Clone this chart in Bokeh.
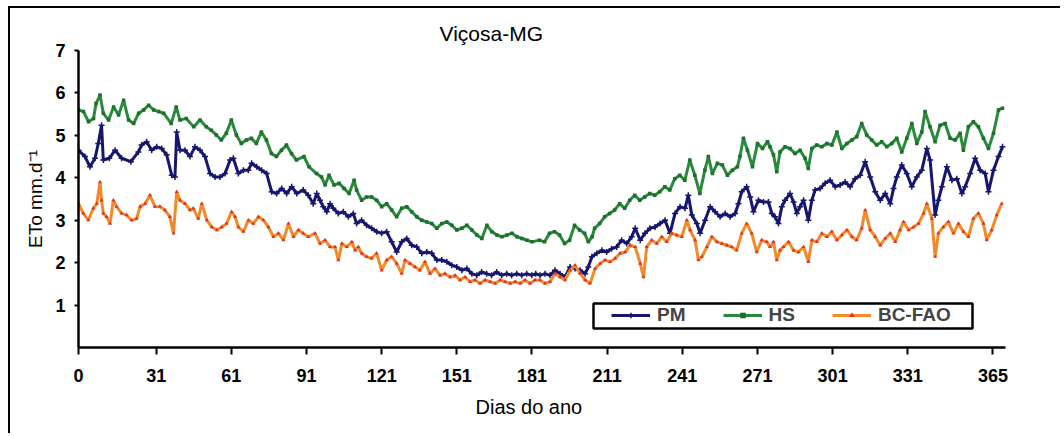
from bokeh.plotting import figure
from bokeh.models import Range1d, FixedTicker, Title, Legend, LegendItem, BoxAnnotation
from bokeh.embed import file_html
from bokeh.resources import INLINE

# ---------------- data ----------------
title_text = "Viçosa-MG"
x_label = "Dias do ano"
y_label = "ETo mm.d⁻¹"
x_ticks = [0, 31, 61, 91, 121, 151, 181, 211, 241, 271, 301, 331, 365]
y_ticks = [1, 2, 3, 4, 5, 6, 7]

hs_days = [0, 2, 4, 6, 7, 8.6, 9.9, 12, 14, 16, 18, 20, 22, 24, 26, 28, 30, 32, 34, 37, 39, 40.5, 43, 46, 48.5,
           51, 53, 55, 57, 59, 61, 63, 65, 67, 69, 71, 73, 75, 77, 79, 81, 83, 85, 87, 90, 92,
           95, 97, 98.4, 100, 102, 104, 106, 108, 110, 111, 113, 115, 117, 119, 121, 123, 125, 127, 129, 131,
           133, 135, 137, 139, 141, 143, 145, 147, 149, 151, 153, 155, 157, 159, 161, 163, 165, 167, 169, 171,
           173, 175, 177, 179, 181,
           184, 186, 188, 190, 192, 194, 196, 198, 200, 202, 203.5, 205, 206, 208, 210, 212, 214, 216, 218, 220,
           222, 224, 226, 228, 230, 232, 234, 236, 238, 240, 242, 244, 246, 248, 250, 251.4, 253, 255, 257, 259,
           261, 263, 264, 265.4, 267, 269, 271, 273, 275,
           276, 277.4, 278.7, 280, 282, 284, 286, 288, 290, 291.3, 292.7, 294.7, 296.7, 298.7, 300.7, 302.7,
           304.7, 306.7, 308.7, 310.6, 312.6, 314.6, 316.6, 318.6, 320.6, 322.6, 324.6, 326.6, 328.6, 330.6,
           332.6, 334.6, 336.6, 337.9, 339.9, 341.9, 343.9, 345.9, 347.9, 349.9, 351.9, 353.2, 355.2, 357.2,
           359.2, 361.2, 363.2, 365.2, 367.2, 368.8]
hs_vals = [5.60, 5.56, 5.32, 5.40, 5.75, 5.95, 5.52, 5.36, 5.67, 5.48, 5.83, 5.36, 5.28, 5.52, 5.60, 5.71, 5.60,
           5.56, 5.52, 5.28, 5.67, 5.36, 5.40, 5.20, 5.36,
           5.20, 5.12, 5.01, 4.89, 5.05, 5.36, 5.01, 4.81, 4.89, 4.93, 4.81, 5.08, 4.89, 4.57, 4.50, 4.65, 4.77,
           4.57, 4.42, 4.50, 4.26,
           4.10, 4.02, 3.83, 4.06, 3.83, 3.87, 3.75, 3.63, 3.94, 3.71, 3.47, 3.55, 3.55, 3.47, 3.32, 3.39, 3.24,
           3.08, 3.28, 3.32,
           3.20, 3.08, 3.00, 2.96, 2.92, 2.81, 2.92, 2.96, 2.88, 2.77, 2.81, 2.88, 2.77, 2.65, 2.57, 2.88, 2.73,
           2.65, 2.61, 2.65,
           2.69, 2.61, 2.57, 2.53, 2.49,
           2.53, 2.49, 2.69, 2.73, 2.65, 2.45, 2.53, 2.88, 2.77, 2.69, 2.49, 2.61, 2.81, 2.92, 3.08, 3.16, 3.24,
           3.39, 3.28, 3.47,
           3.59, 3.47, 3.55, 3.63, 3.59, 3.67, 3.79, 3.71, 3.98, 4.06, 3.94, 4.42, 4.06, 3.63, 4.18, 4.50, 4.10,
           4.34, 4.30, 4.06,
           4.18, 4.26, 4.50, 4.93, 4.65, 4.26, 4.81, 4.69, 4.85,
           4.73, 4.54, 4.14, 4.61, 4.73, 4.69, 4.57, 4.65, 4.46, 4.22, 4.69, 4.77, 4.73, 4.81, 4.77, 5.08,
           4.69, 4.81, 4.89, 4.97, 5.28, 5.01, 4.89, 4.77, 4.85, 4.73, 4.81, 4.93, 4.61, 4.93,
           5.28, 4.81, 5.08, 5.56, 5.20, 4.85, 5.24, 5.28, 4.93, 4.89, 5.05, 4.65, 5.20, 5.32,
           5.20, 4.93, 4.69, 5.05, 5.60, 5.64]

pm_days = [0, 2.6, 4.6, 6.6, 7.9, 9.2, 9.9, 12.3, 14.6, 17.2, 20.9, 23.9, 25.2, 27.2, 29.2, 31.2, 33.2, 35.2,
           37.2, 38.5, 39.2, 40.5, 42.5, 44.5, 46.5, 48.5, 50.5, 52.5, 54.5, 56.5, 58.5, 60.5, 61.8, 63.8, 65.8,
           67.8, 69.1, 71.1, 73.1, 75.1, 77.1, 79.1, 81.1, 83.1, 85.1, 87.1, 89.7, 91.7,
           93.7, 95.1, 96.4, 97.7, 99.1, 100.4, 101.7, 103.7, 105.7, 107.7, 109.7, 111, 113, 115, 117, 119, 121,
           123, 125, 127, 129, 131, 133, 135, 137, 139, 141, 143, 145, 147, 149, 151, 153, 155, 157, 159, 160.9,
           162.9, 164.9, 166.9, 168.9, 170.9, 172.9, 174.9, 176.9, 178.9, 180.9, 182.5,
           184.2, 186.2, 188.2, 190.2, 192.2, 194.2, 196.2, 198.2, 200.2, 202.2, 203.5, 204.9, 206.9, 208.9,
           210.8, 212.8, 214.8, 216.8, 218.8, 220.8, 222.2, 224.2, 226.1, 228.1, 230.1, 232.1, 234.1, 236.1,
           238.1, 240.1, 242.1, 243.4, 244.8, 246.8, 248.1, 250.1, 252.1, 254.1, 256.1, 258.1, 260.1, 262.1,
           263.4, 264.7, 266.7, 268.1, 269.4, 271.4, 273.4,
           275.4, 276.7, 278, 279.4, 280.7, 282, 284, 285.4, 286.7, 288, 289.4, 291.3, 292.7, 294, 296, 298,
           300, 302, 304, 306, 308, 310, 312, 314, 316, 318, 320, 322, 324, 325.3, 326.6, 328.6, 330.6, 332.6,
           334.6, 336.6, 338.6, 339.9, 341.9, 343.2, 344.6, 346.6, 348.6, 350.6, 352.6, 353.9, 355.9, 357.9,
           359.9, 361.9, 363.2, 365.2, 367.2, 368.8]
pm_vals = [4.65, 4.50, 4.26, 4.46, 4.81, 5.24, 4.42, 4.46, 4.65, 4.46, 4.38, 4.61, 4.77, 4.85, 4.65, 4.73, 4.69,
           4.54, 4.06, 4.02, 5.08, 4.65, 4.65, 4.50, 4.73, 4.65, 4.50, 4.10, 4.02, 4.02, 4.10, 4.42, 4.46, 4.10,
           4.18, 4.18, 4.34, 4.26, 4.18, 4.10, 3.67, 3.63, 3.75, 3.63, 3.79, 3.63, 3.71, 3.59,
           3.39, 3.63, 3.47, 3.32, 3.20, 3.39, 3.28, 3.16, 3.20, 3.08, 3.16, 2.92, 3.00, 2.88, 2.81, 2.73, 2.69,
           2.73, 2.49, 2.25, 2.49, 2.57, 2.41, 2.37, 2.22, 2.25, 2.22, 2.06, 2.06, 2.02, 1.94, 1.90, 1.82, 1.86,
           1.74, 1.70, 1.78,
           1.74, 1.70, 1.78, 1.70, 1.74, 1.70, 1.74, 1.70, 1.74, 1.70, 1.74,
           1.70, 1.74, 1.70, 1.82, 1.74, 1.66, 1.90, 1.86, 1.82, 1.74, 1.90, 2.14, 2.22, 2.29,
           2.25, 2.33, 2.37, 2.53, 2.45, 2.61, 2.81, 2.53, 2.69, 2.81, 2.84, 2.92, 3.00, 2.69,
           3.16, 3.32, 3.28, 3.59, 3.12, 2.92, 2.69, 3.00, 3.32, 3.20, 3.08, 3.16, 3.08, 3.16,
           3.39, 3.67, 3.79, 3.55, 3.20, 3.47, 3.43,
           3.43, 3.16, 3.08, 2.92, 3.32, 3.47, 3.63, 3.43, 3.16, 3.32, 3.47, 3.00, 3.47, 3.71, 3.75, 3.87,
           3.94, 3.79, 3.83, 3.90, 3.79, 3.98, 4.06, 4.38, 4.02, 3.67, 3.47, 3.63, 3.39, 3.75, 4.02, 4.30, 4.10,
           3.79, 4.02, 4.18, 4.69, 4.42, 3.12, 3.47, 3.79, 4.26, 3.94, 3.98, 3.63, 3.79, 4.10, 4.46,
           4.18, 4.10, 3.67, 4.18, 4.50, 4.73]

bc_days = [0, 1.9, 3.9, 5.9, 7.3, 8.6, 9.2, 9.9, 11.2, 12.6, 13.9, 15.2, 17.2, 19.2, 21.2, 23.2, 24.6, 26.6,
           28.5, 30.5, 32.5, 34.5, 36.5, 37.9, 39.2, 40.5, 42.5, 44.5, 45.8, 47.8, 49.2, 51.2, 53.2, 55.2, 57.2,
           59.1, 61.1, 62.5, 63.8, 65.8, 67.8, 69.8, 71.8, 73.8, 75.8, 77.8, 79.8, 81.8, 83.8, 85.8, 87.8, 89.7,
           91.7,
           94.4, 96.4, 98.4, 100.4, 102.4, 103.7, 105.1, 107.1, 109.1, 110.4, 111.7, 113, 115, 117, 119, 121,
           123, 125, 127, 129, 130.3, 132.3, 134.3, 136.3, 138.3, 140.3, 142.3, 144.3, 146.3, 148.3, 150.3,
           152.3, 154.3, 156.3, 158.3, 160.3, 162.3, 164.3, 166.3, 168.3, 170.3, 172.3, 174.3, 176.3, 178.2,
           180.2, 182.2,
           184.2, 186.2, 188.2, 190.2, 192.2, 194.2, 196.2, 198.2, 200.2, 202.2, 204.2, 206.2, 208.2, 210.2,
           212.2, 214.2, 216.2, 218.2, 220.2, 222.2, 224.2, 225.5, 226.8, 228.8, 230.8, 232.8, 234.8, 236.8,
           238.8, 240.8, 242.8, 244.1, 246.1, 247.4, 248.8, 250.8, 252.8, 254.8, 256.8, 258.8, 260.7, 262.7,
           264.7, 266.7, 268.7, 270.7, 272.7, 274.7,
           276, 277.4, 278.7, 280, 281.4, 283.4, 285.4, 287.4, 289.4, 291.3, 292.7, 294.7, 296.7, 298.7,
           300.7, 302.7, 304.7, 306.7, 308.7, 310.6, 312.6, 314, 316, 318, 320, 322, 324, 326, 327.9, 329.3,
           331.3, 333.3, 335.3, 337.3, 338.6, 340.6, 341.9, 343.2, 345.2, 347.2, 349.2, 351.2, 353.2, 355.2,
           357.2, 359.2, 361.2, 362.5, 364.5, 366.5, 368.5]
bc_vals = [3.39, 3.16, 3.00, 3.28, 3.39, 3.90, 3.47, 3.16, 3.08, 2.92, 3.47, 3.32, 3.16, 3.12, 3.00, 3.04, 3.32,
           3.39, 3.59, 3.32, 3.32, 3.24, 3.08, 2.69, 3.67, 3.47, 3.39, 3.24, 3.28, 3.04, 3.39, 3.00, 2.84, 2.77,
           2.84, 2.92, 3.20, 3.08, 2.84, 2.73, 3.00, 2.92, 3.08, 3.00, 2.84, 2.61, 2.69, 2.53, 2.92, 2.61, 2.77,
           2.69, 2.61,
           2.69, 2.45, 2.53, 2.37, 2.37, 2.06, 2.45, 2.37, 2.49, 2.29, 2.37, 2.22, 2.14, 2.10, 2.22, 1.82,
           2.06, 2.14, 1.98, 1.74, 2.06, 1.98, 1.90, 1.82, 2.02, 1.74, 1.86, 1.70, 1.74, 1.66, 1.70,
           1.59, 1.66, 1.55, 1.59, 1.51, 1.59, 1.55, 1.51, 1.59, 1.55, 1.51, 1.55, 1.51, 1.59,
           1.51, 1.59,
           1.59, 1.51, 1.55, 1.74, 1.66, 1.59, 1.82, 1.94, 1.74, 1.59, 1.51, 1.86, 1.98, 2.06,
           2.02, 2.10, 2.22, 2.25, 2.41, 2.37, 1.98, 1.66, 2.37, 2.53, 2.45, 2.61, 2.49, 2.69,
           2.65, 2.61, 3.00, 2.77, 2.53, 2.06, 2.14, 2.37, 2.61, 2.49, 2.45, 2.41, 2.37, 2.29,
           2.69, 2.92, 2.69, 2.25, 2.53, 2.49,
           2.37, 2.49, 2.06, 2.29, 2.37, 2.49, 2.29, 2.25, 2.37, 2.02, 2.53, 2.49, 2.69, 2.61,
           2.73, 2.53, 2.65, 2.77, 2.61, 2.53, 2.81, 3.24, 2.77, 2.61, 2.41, 2.57, 2.69, 2.49, 2.77, 2.96,
           2.77, 2.84, 2.92, 3.16, 3.39, 3.04, 2.14, 2.69, 2.84, 2.96, 2.69, 2.92, 2.73, 2.61,
           3.04, 3.16, 2.92, 2.53, 2.77, 3.12, 3.39]

series_names = ["PM", "HS", "BC-FAO"]

# ---------------- figure ----------------
FONT = "Liberation Sans"
p = figure(width=1052, height=427, output_backend="svg", toolbar_location=None,
           x_range=Range1d(0, 370), y_range=Range1d(0, 7),
           min_border_left=68, min_border_right=57, min_border_top=42, min_border_bottom=88,
           background_fill_color="white", border_fill_color="white")
p.styles = {"margin-left": "8px", "margin-top": "6px",
            "border-left": "2px solid black", "border-top": "2px solid black"}
p.outline_line_color = None
p.grid.visible = False

line_pm = p.line(pm_days, pm_vals, line_color="#16166e", line_width=3)
mk_pm = p.scatter(pm_days, pm_vals, marker="cross", size=6, line_color="#16166e", line_width=1.5)
line_hs = p.line(hs_days, hs_vals, line_color="#2a8a3c", line_width=3)
mk_hs = p.scatter(hs_days, hs_vals, marker="square", size=3.5, fill_color="#1f6e2c", line_color=None)
line_bc = p.line(bc_days, bc_vals, line_color="#f28a2a", line_width=3)
mk_bc = p.scatter(bc_days, bc_vals, marker="triangle", size=4, fill_color="#e0302a", line_color=None)

for ax in (p.xaxis[0], p.yaxis[0]):
    ax.axis_line_width = 2.5
    ax.axis_line_color = "black"
    ax.major_tick_line_width = 2
    ax.major_tick_line_color = "black"
    ax.major_tick_in = 0
    ax.minor_tick_line_color = None
    ax.major_label_text_font = FONT
    ax.major_label_text_font_style = "bold"
    ax.major_label_text_font_size = "18px"
    ax.major_label_text_color = "black"
    ax.axis_label_text_font = FONT
    ax.axis_label_text_font_style = "normal"
    ax.axis_label_text_font_size = "19px"
    ax.axis_label_text_color = "black"

p.xaxis.ticker = FixedTicker(ticks=x_ticks)
p.xaxis.major_tick_out = 7
p.xaxis.major_label_standoff = 14
p.yaxis.ticker = FixedTicker(ticks=y_ticks)
p.yaxis.major_tick_out = 4
p.yaxis.major_label_standoff = 9
p.yaxis.axis_label = y_label
p.yaxis.axis_label_standoff = 6

t = Title(text=title_text, align="left", offset=361, text_font=FONT, text_font_size="21px",
          text_font_style="normal", text_color="black", standoff=11)
p.add_layout(t, "above")
xl = Title(text=x_label, align="left", offset=397, text_font=FONT, text_font_size="20px",
           text_font_style="normal", text_color="black", standoff=19)
p.add_layout(xl, "below")

# legend frame (screen units are measured from the frame's lower-left corner)
legend_box = BoxAnnotation(left=515, right=894, bottom=19, top=44,
                           left_units="screen", right_units="screen",
                           top_units="screen", bottom_units="screen",
                           fill_color="white", fill_alpha=1.0,
                           line_color="black", line_alpha=1.0, line_dash="solid",
                           line_width=2.5, level="overlay")
p.add_layout(legend_box)

legend = Legend(items=[LegendItem(label=series_names[0], renderers=[line_pm, mk_pm]),
                       LegendItem(label=series_names[1], renderers=[line_hs, mk_hs]),
                       LegendItem(label=series_names[2], renderers=[line_bc, mk_bc])],
                orientation="horizontal", location=(533, 21),
                border_line_color=None, background_fill_alpha=0,
                label_text_font=FONT, label_text_font_style="bold", label_text_font_size="19px",
                glyph_width=39, glyph_height=14, label_height=14, label_standoff=7,
                spacing=37, padding=0, margin=0)
p.add_layout(legend, "center")
legend.level = "overlay"

open("out.html", "w").write(file_html(p, INLINE))
